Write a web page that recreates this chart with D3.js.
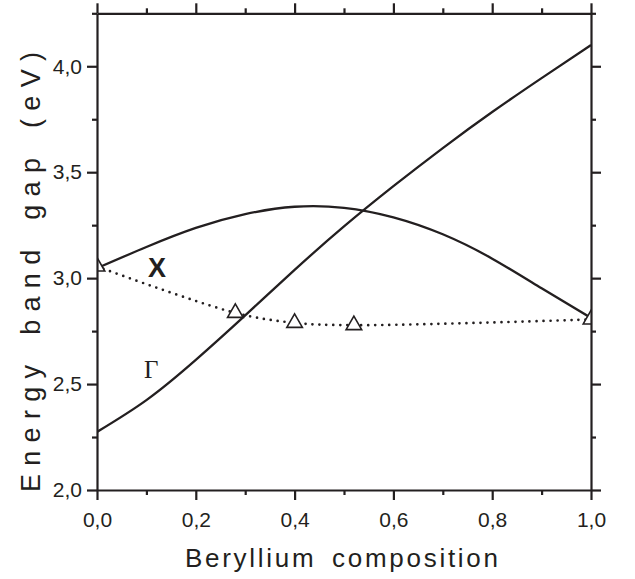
<!DOCTYPE html>
<html>
<head>
<meta charset="utf-8">
<script src="https://d3js.org/d3.v7.min.js"></script>
<style>
  body { margin: 0; background: #fff; }
  svg text { font-family: "Liberation Sans", Arial, sans-serif; fill: #231f20; }
  .axis path, .axis line { stroke: #231f20; stroke-width: 2.2; }
</style>
</head>
<body>
<svg id="chart" width="635" height="579"></svg>
<script>
// Beryllium composition (x) and band gaps
var comp = [0, 0.1, 0.2, 0.3, 0.4, 0.5, 0.6, 0.7, 0.8, 0.9, 1.0];
var gammaGap = [2.274, 2.424, 2.614, 2.824, 3.039, 3.244, 3.434, 3.614, 3.784, 3.944, 4.10];
var xGap = [3.047, 3.147, 3.237, 3.302, 3.337, 3.332, 3.287, 3.207, 3.092, 2.952, 2.812];
var measComp = [0, 0.28, 0.40, 0.52, 1.0];
var measGap = [3.055, 2.836, 2.789, 2.778, 2.805];

var xMajor = [0, 0.2, 0.4, 0.6, 0.8, 1.0];
var xMinor = [0.1, 0.3, 0.5, 0.7, 0.9];
var yMajor = [2.0, 2.5, 3.0, 3.5, 4.0];
var yMinor = [2.25, 2.75, 3.25, 3.75, 4.25];

var pLeft = 97, pRight = 591, pTop = 13.3, pBottom = 490;
var svg = d3.select("#chart");

var x = d3.scaleLinear().domain([0, 1]).range([pLeft, pRight]);
var y = d3.scaleLinear().domain([2, 4.25]).range([pBottom, pTop]);

var fmt = function(d) { return d3.format(".1f")(d).replace(".", ","); };

svg.append("defs").append("clipPath")
  .attr("id", "clip")
  .append("rect")
  .attr("x", pLeft).attr("y", pTop)
  .attr("width", pRight - pLeft).attr("height", pBottom - pTop);

var line = d3.line()
  .x(function(d) { return x(d[0]); })
  .y(function(d) { return y(d[1]); })
  .curve(d3.curveNatural);

var plot = svg.append("g").attr("clip-path", "url(#clip)");

plot.append("path")
  .datum(d3.zip(comp, gammaGap))
  .attr("d", line)
  .attr("fill", "none").attr("stroke", "#231f20").attr("stroke-width", 2.3);

plot.append("path")
  .datum(d3.zip(comp, xGap))
  .attr("d", line)
  .attr("fill", "none").attr("stroke", "#231f20").attr("stroke-width", 2.3);

plot.append("path")
  .datum(d3.zip(measComp, measGap))
  .attr("d", line.curve(d3.curveCatmullRom))
  .attr("fill", "none").attr("stroke", "#231f20").attr("stroke-width", 2.7)
  .attr("stroke-linecap", "round").attr("stroke-dasharray", "0 7");

plot.selectAll(".tri")
  .data(d3.zip(measComp, measGap))
  .enter().append("path")
  .attr("class", "tri")
  .attr("transform", function(d) { return "translate(" + x(d[0]) + "," + y(d[1]) + ")"; })
  .attr("d", d3.symbol(d3.symbolTriangle, 105))
  .attr("fill", "#fff").attr("stroke", "#231f20").attr("stroke-width", 1.6);

// axes: major + minor ticks on all four sides
function addAxis(axisFn, scale, major, minor, tr, labels) {
  var g = svg.append("g").attr("class", "axis").attr("transform", tr);
  var a = axisFn(scale).tickValues(major).tickSizeInner(10).tickSizeOuter(0);
  if (labels) a.tickFormat(fmt); else a.tickFormat("");
  g.call(a);
  var m = svg.append("g").attr("class", "axis").attr("transform", tr);
  m.call(axisFn(scale).tickValues(minor).tickSize(5).tickFormat(""));
  m.select(".domain").remove();
  return g;
}

var gb = addAxis(d3.axisBottom, x, xMajor, xMinor, "translate(0," + pBottom + ")", true);
gb.selectAll("text").attr("y", 22).style("font-size", "21px");
addAxis(d3.axisTop, x, xMajor, xMinor, "translate(0," + pTop + ")", false);
var gl = addAxis(d3.axisLeft, y, yMajor, yMinor, "translate(" + pLeft + ",0)", true);
gl.selectAll("text").attr("x", -15).style("font-size", "21px");
addAxis(d3.axisRight, y, yMajor, yMinor, "translate(" + pRight + ",0)", false);

// axis titles
svg.append("text")
  .attr("x", 185).attr("y", 567)
  .style("font-size", "26px")
  .attr("textLength", 313).attr("lengthAdjust", "spacing")
  .text("Beryllium\u2002composition");

svg.append("text")
  .attr("transform", "translate(40,492) rotate(-90)")
  .style("font-size", "27px")
  .attr("textLength", 440).attr("lengthAdjust", "spacing")
  .text("Energy\u2002band\u2002gap\u2002(eV)");

// curve labels
svg.append("text")
  .attr("x", 157).attr("y", 277)
  .attr("text-anchor", "middle")
  .style("font-size", "27px").attr("font-weight", "bold")
  .text("X");

svg.append("text")
  .attr("x", 144).attr("y", 378)
  .style("font-size", "25px")
  .style("font-family", "Liberation Serif, Times New Roman, serif")
  .text("\u0393");
</script>
</body>
</html>
